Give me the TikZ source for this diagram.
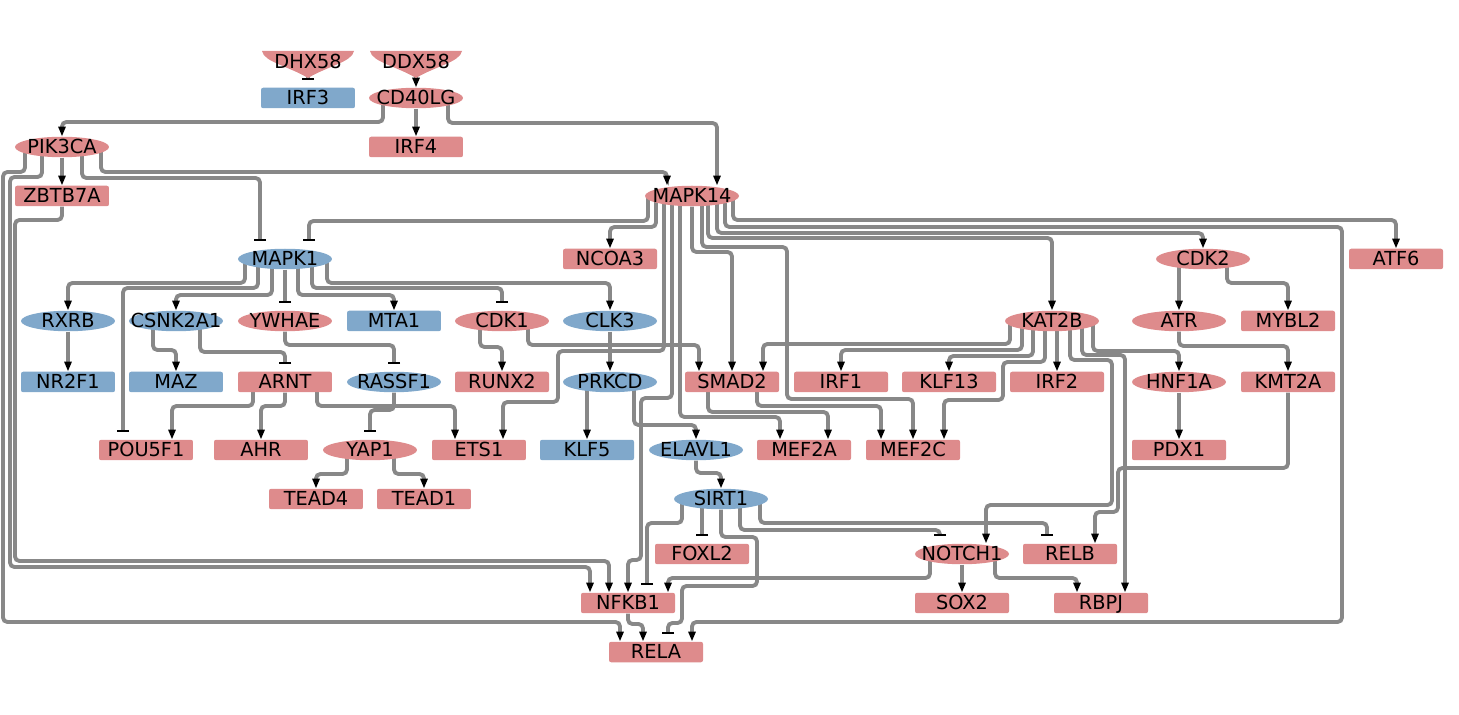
\documentclass[tikz,border=0pt]{standalone}
\usepackage{fontspec}
\newfontfamily\genefont{DejaVu Sans}
\usetikzlibrary{arrows.meta, calc, shapes.geometric}
\definecolor{genered}{RGB}{222,139,140}
\definecolor{geneblue}{RGB}{128,168,203}
\definecolor{edgegray}{RGB}{136,136,136}
\pgfdeclarelayer{bg}
\pgfsetlayers{bg,main}
\newcommand{\gn}[1]{\smash{\makebox[0pt]{\raisebox{-0.36em}{#1}}}}
\tikzset{
  gene/.style={inner sep=0pt, minimum width=1.88cm, minimum height=0.41cm, font=\genefont\fontsize{11}{13}\selectfont},
  redbox/.style={gene, rectangle, rounded corners=1.2pt, fill=genered},
  bluebox/.style={gene, rectangle, rounded corners=1.2pt, fill=geneblue},
  redoval/.style={gene, ellipse, fill=genered},
  blueoval/.style={gene, ellipse, fill=geneblue},
  act/.style={draw=edgegray, line width=2.2pt, rounded corners=2.5pt, -{Triangle[color=black,width=4pt,length=5.5pt]}},
  inh/.style={draw=edgegray, line width=2.2pt, rounded corners=2.5pt, -{Bar[color=black,width=7pt,line width=1.2pt]}}
}

\begin{document}
\begin{tikzpicture}[x=0.02cm, y=-0.02cm]
	\useasboundingbox (0,0) rectangle (1459,715);
	\foreach \x in {308,416}
		\fill[genered] (\x-46,51) -- (\x+46,51) .. controls (\x+44,62) and (\x+20,66) .. (\x,78) .. controls (\x-20,66) and (\x-44,62) .. cycle;

	\draw (308,62) node[gene] (dhx58) {\gn{DHX58}}
		(416,62) node[gene] (ddx58) {\gn{DDX58}}
		(308,98) node[bluebox] (irf3) {\gn{IRF3}}
		(416,98) node[redoval] (cd40lg) {\gn{CD40LG}}
		(62,147) node[redoval] (pik3ca) {\gn{PIK3CA}}
		(416,147) node[redbox] (irf4) {\gn{IRF4}}
		(62,196) node[redbox] (zbtb7a) {\gn{ZBTB7A}}
		(692,196) node[redoval] (mapk14) {\gn{MAPK14}};
	\draw (285,259) node[blueoval] (mapk1) {\gn{MAPK1}}
		(610,259) node[redbox] (ncoa3) {\gn{NCOA3}}
		(1203,259) node[redoval] (cdk2) {\gn{CDK2}}
		(1396,259) node[redbox] (atf6) {\gn{ATF6}};
	\draw (68,321) node[blueoval] (rxrb) {\gn{RXRB}}
		(176,321) node[blueoval] (csnk2a1) {\gn{CSNK2A1}}
		(285,321) node[redoval] (ywhae) {\gn{YWHAE}}
		(394,321) node[bluebox] (mta1) {\gn{MTA1}}
		(502,321) node[redoval] (cdk1) {\gn{CDK1}}
		(610,321) node[blueoval] (clk3) {\gn{CLK3}}
		(1052,321) node[redoval] (kat2b) {\gn{KAT2B}}
		(1179,321) node[redoval] (atr) {\gn{ATR}}
		(1288,321) node[redbox] (mybl2) {\gn{MYBL2}};
	\draw (68,382) node[bluebox] (nr2f1) {\gn{NR2F1}}
		(176,382) node[bluebox] (maz) {\gn{MAZ}}
		(285,382) node[redbox] (arnt) {\gn{ARNT}}
		(394,382) node[blueoval] (rassf1) {\gn{RASSF1}}
		(502,382) node[redbox] (runx2) {\gn{RUNX2}}
		(610,382) node[blueoval] (prkcd) {\gn{PRKCD}}
		(732,382) node[redbox] (smad2) {\gn{SMAD2}}
		(841,382) node[redbox] (irf1) {\gn{IRF1}}
		(949,382) node[redbox] (klf13) {\gn{KLF13}}
		(1057,382) node[redbox] (irf2) {\gn{IRF2}}
		(1179,382) node[redoval] (hnf1a) {\gn{HNF1A}}
		(1288,382) node[redbox] (kmt2a) {\gn{KMT2A}};
	\draw (146,450) node[redbox] (pou5f1) {\gn{POU5F1}}
		(261,450) node[redbox] (ahr) {\gn{AHR}}
		(370,450) node[redoval] (yap1) {\gn{YAP1}}
		(479,450) node[redbox] (ets1) {\gn{ETS1}}
		(587,450) node[bluebox] (klf5) {\gn{KLF5}}
		(696,450) node[blueoval] (elavl1) {\gn{ELAVL1}}
		(804,450) node[redbox] (mef2a) {\gn{MEF2A}}
		(913,450) node[redbox] (mef2c) {\gn{MEF2C}}
		(1179,450) node[redbox] (pdx1) {\gn{PDX1}};
	\draw (316,499) node[redbox] (tead4) {\gn{TEAD4}}
		(424,499) node[redbox] (tead1) {\gn{TEAD1}}
		(721,499) node[blueoval] (sirt1) {\gn{SIRT1}}
		(702,554) node[redbox] (foxl2) {\gn{FOXL2}}
		(962,554) node[redoval] (notch1) {\gn{NOTCH1}}
		(1070,554) node[redbox] (relb) {\gn{RELB}}
		(628,603) node[redbox] (nfkb1) {\gn{NFKB1}}
		(962,603) node[redbox] (sox2) {\gn{SOX2}}
		(1101,603) node[redbox] (rbpj) {\gn{RBPJ}}
		(656,652) node[redbox] (rela) {\gn{RELA}};

	\begin{pgfonlayer}{bg}
	\draw[inh] (dhx58.south) -- ($(irf3.north)+(0,-7)$);
	\draw[act] (ddx58.south) -- (cd40lg.north);
	\draw[act] ($(cd40lg)+(-33,0)$) |- (62,122) -- (pik3ca.north);
	\draw[act] (cd40lg) -- (irf4.north);
	\draw[act] ($(cd40lg)+(32,0)$) |- (717,123) -- ($(mapk14.north)+(25,0)$);

	\draw[act] ($(pik3ca)+(39,0)$) |- (667,172) -- ($(mapk14.north)+(-25,0)$);
	\draw[act] (pik3ca) -- (zbtb7a.north);
	\draw[inh] ($(pik3ca)+(20,0)$) |- (260,178) -- ($(mapk1.north)+(-25,-7)$);
	\draw[act] ($(pik3ca)+(-20,0)$) |- (10,177) |- (590,567) -- ($(nfkb1.north)+(-38,0)$);
	\draw[act] ($(pik3ca)+(-37,0)$) |- (3,172) |- (620,622) -- ($(rela.north)+(-36,0)$);
	\draw[act] (zbtb7a) |- (15,220) |- (609,561) -- ($(nfkb1.north)+(-19,0)$);

	\draw[inh] ($(mapk14)+(-44,0)$) |- (309,221) -- ($(mapk1.north)+(24,-7)$);
	\draw[act] ($(mapk14)+(-36,0)$) |- (610,227) -- (ncoa3.north);
	\draw[act] ($(mapk14)+(-28,0)$) |- (558,351) |- (503,402) -- ($(ets1.north)+(24,0)$);
	\draw[act] ($(mapk14)+(-20,0)$) |- (641,398) |- (628,560) -- (nfkb1.north);
	\draw[act] ($(mapk14)+(-12,0)$) |- (780,417) -- ($(mef2a.north)+(-24,0)$);
	\draw[act] (mapk14) |- (732,252) -- (smad2.north);
	\draw[act] ($(mapk14)+(10,0)$) |- (787,247) |- (913,399) -- (mef2c.north);
	\draw[act] ($(mapk14)+(16,0)$) |- (1052,238) -- (kat2b.north);
	\draw[act] ($(mapk14)+(25,0)$) |- (1203,233) -- (cdk2.north);
	\draw[act] ($(mapk14)+(33,0)$) |- (1342,227) |- (692,622) -- ($(rela.north)+(36,0)$);
	\draw[act] ($(mapk14)+(41,0)$) |- (1396,220) -- (atf6.north);

	\draw[act] ($(mapk1)+(-40,0)$) |- (68,283) -- (rxrb.north);
	\draw[inh] ($(mapk1)+(-27,0)$) |- (123,288) -- ($(pou5f1.north)+(-23,-7)$);
	\draw[act] ($(mapk1)+(-13,0)$) |- (176,295) -- (csnk2a1.north);
	\draw[inh] (mapk1) -- ($(ywhae.north)+(0,-7)$);
	\draw[act] ($(mapk1)+(13,0)$) |- (394,295) -- (mta1.north);
	\draw[inh] ($(mapk1)+(27,0)$) |- (502,288) -- ($(cdk1.north)+(0,-7)$);
	\draw[act] ($(mapk1)+(42,0)$) |- (610,283) -- (clk3.north);

	\draw[act] (rxrb) -- (nr2f1.north);
	\draw[act] ($(csnk2a1)+(-23,0)$) |- (176,350) -- (maz.north);
	\draw[inh] ($(csnk2a1)+(24,0)$) |- (285,352) -- ($(arnt.north)+(0,-7)$);
	\draw[inh] (ywhae) |- (394,345) -- ($(rassf1.north)+(0,-7)$);
	\draw[act] ($(arnt)+(-32,0)$) |- (172,406) -- ($(pou5f1.north)+(26,0)$);
	\draw[act] (arnt) |- (261,406) -- (ahr.north);
	\draw[act] ($(arnt)+(32,0)$) |- (455,406) -- ($(ets1.north)+(-24,0)$);
	\draw[inh] (rassf1) |- (370,410) -- ($(yap1.north)+(0,-7)$);
	\draw[act] ($(yap1)+(-23,0)$) |- (316,474) -- (tead4.north);
	\draw[act] ($(yap1)+(24,0)$) |- (424,474) -- (tead1.north);
	\draw[act] ($(cdk1)+(-22,0)$) |- (502,347) -- (runx2.north);
	\draw[act] ($(cdk1)+(26,0)$) |- (699,345) -- ($(smad2.north)+(-33,0)$);
	\draw[act] (clk3) -- (prkcd.north);
	\draw[act] ($(prkcd)+(-23,0)$) -- (klf5.north);
	\draw[act] ($(prkcd)+(24,0)$) |- (696,425) -- (elavl1.north);
	\draw[act] ($(smad2)+(-24,0)$) |- (828,412) -- ($(mef2a.north)+(24,0)$);
	\draw[act] ($(smad2)+(25,0)$) |- (881,406) -- ($(mef2c.north)+(-32,0)$);

	\draw[act] ($(kat2b)+(-42,0)$) |- (763,344) -- ($(smad2.north)+(31,0)$);
	\draw[act] ($(kat2b)+(-30,0)$) |- (841,350) -- (irf1.north);
	\draw[act] ($(kat2b)+(-19,0)$) |- (949,356) -- (klf13.north);
	\draw[act] ($(kat2b)+(-7,0)$) |- (1003,362) |- (944,400) -- ($(mef2c.north)+(31,0)$);
	\draw[act] ($(kat2b)+(5,0)$) -- (irf2.north);
	\draw[act] ($(kat2b)+(18,0)$) |- (1112,360) |- (986,505) -- ($(notch1.north)+(24,0)$);
	\draw[act] ($(kat2b)+(30,0)$) |- (1125,355) -- ($(rbpj.north)+(24,0)$);
	\draw[act] ($(kat2b)+(41,0)$) |- (1179,351) -- (hnf1a.north);

	\draw[act] ($(cdk2)+(-24,0)$) -- (atr.north);
	\draw[act] ($(cdk2)+(24,0)$) |- (1288,283) -- (mybl2.north);
	\draw[act] (atr) |- (1288,346) -- (kmt2a.north);
	\draw[act] (hnf1a) -- (pdx1.north);
	\draw[act] (kmt2a) |- (1118,468) |- (1095,512) -- ($(relb.north)+(25,0)$);

	\draw[act] (elavl1) |- (721,473) -- (sirt1.north);
	\draw[inh] ($(sirt1)+(-39,0)$) |- (647,523) -- ($(nfkb1.north)+(19,-7)$);
	\draw[inh] ($(sirt1)+(-19,0)$) -- ($(foxl2.north)+(0,-7)$);
	\draw[inh] (sirt1) |- (757,537) |- (682,586) |- (668,623) -- ($(rela.north)+(12,-7)$);
	\draw[inh] ($(sirt1)+(19,0)$) |- (940,530) -- ($(notch1.north)+(-22,-7)$);
	\draw[inh] ($(sirt1)+(39,0)$) |- (1047,523) -- ($(relb.north)+(-23,-7)$);

	\draw[act] ($(notch1)+(-32,0)$) |- (668,578) -- ($(nfkb1.north)+(40,0)$);
	\draw[act] (notch1) -- (sox2.north);
	\draw[act] ($(notch1)+(33,0)$) |- (1077,578) -- ($(rbpj.north)+(-24,0)$);
	\draw[act] (nfkb1) |- (643,624) -- ($(rela.north)+(-13,0)$);
	\end{pgfonlayer}
\end{tikzpicture}
\end{document}
